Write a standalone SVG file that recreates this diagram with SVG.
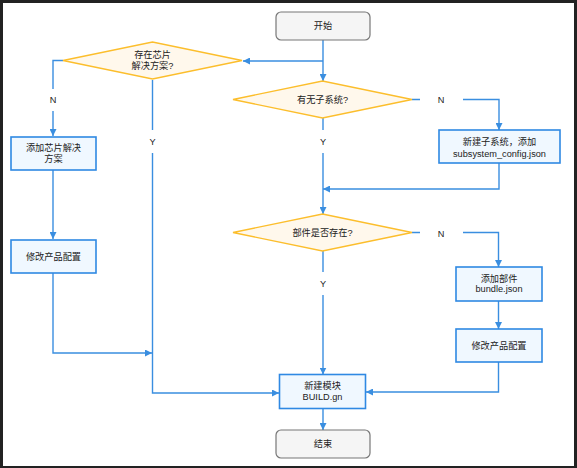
<svg xmlns="http://www.w3.org/2000/svg" width="577" height="468" viewBox="0 0 577 468">
<style>
text{font-family:"Liberation Sans","Noto Sans CJK SC",sans-serif;font-size:9.2px;fill:#222;text-anchor:middle;dominant-baseline:central}
.term{fill:#f5f5f5;stroke:#777;stroke-width:1.2}
.proc{fill:#f0f8ff;stroke:#2f89e3;stroke-width:1.6}
.dec{fill:#fff8ec;stroke:#fcbe2c;stroke-width:1.3}
.edge{fill:none;stroke:#3a8ee0;stroke-width:1.4}
.lbg{fill:#fff}
</style>
<defs>
<marker id="ah" markerUnits="userSpaceOnUse" markerWidth="8" markerHeight="7" refX="7" refY="3.5" orient="auto">
<path d="M0,0 L7,3.5 L0,7 Z" fill="#3a8ee0"/>
</marker>
</defs>
<rect x="0" y="0" width="577" height="468" fill="#222"/>
<rect x="3" y="3" width="571" height="463" fill="#fff"/>
<g id="connectors">
<path class="edge" d="M323,40 V81" marker-end="url(#ah)"/>
<path class="edge" d="M323,61 H243" marker-end="url(#ah)"/>
<path class="edge" d="M63,60.5 H53 V136" marker-end="url(#ah)"/>
<path class="edge" d="M152.5,80 V393 H279" marker-end="url(#ah)"/>
<path class="edge" d="M53,170 V239" marker-end="url(#ah)"/>
<path class="edge" d="M53,273 V353 H152" marker-end="url(#ah)"/>
<path class="edge" d="M412,99.5 H499 V130" marker-end="url(#ah)"/>
<path class="edge" d="M323,118 V214" marker-end="url(#ah)"/>
<path class="edge" d="M499,163 V189 H323" marker-end="url(#ah)"/>
<path class="edge" d="M412,232.5 H498.5 V267" marker-end="url(#ah)"/>
<path class="edge" d="M323,251 V374.5" marker-end="url(#ah)"/>
<path class="edge" d="M498.5,301 V329" marker-end="url(#ah)"/>
<path class="edge" d="M498.5,362 V392 H366" marker-end="url(#ah)"/>
<path class="edge" d="M323,409 V430" marker-end="url(#ah)"/>
<rect class="lbg" x="42" y="89" width="22" height="22"/><text x="53" y="100">N</text>
<rect class="lbg" x="142" y="130" width="22" height="23"/><text x="152.5" y="141.5">Y</text>
<rect class="lbg" x="420" y="89" width="43" height="22"/><text x="441" y="99.5">N</text>
<rect class="lbg" x="312" y="130" width="22" height="23"/><text x="323" y="141.5">Y</text>
<rect class="lbg" x="420" y="222" width="43" height="22"/><text x="441" y="234">N</text>
<rect class="lbg" x="312" y="272" width="22" height="23"/><text x="323" y="283.5">Y</text>
</g>
<g id="start"><rect class="term" x="276" y="12" width="94" height="28" rx="5"/><text x="323" y="26">开始</text></g>
<g id="d0"><polygon class="dec" points="63,60.5 152.5,42 242,60.5 152.5,79"/><text x="152.5" y="54.5">存在芯片</text><text x="152.5" y="66">解决方案?</text></g>
<g id="d1"><polygon class="dec" points="233,99.5 322.5,81 412,99.5 322.5,118"/><text x="322.5" y="99.5">有无子系统?</text></g>
<g id="addchip"><rect class="proc" x="11" y="137" width="85" height="33"/><text x="53.5" y="147.5">添加芯片解决</text><text x="53.5" y="159">方案</text></g>
<g id="modify1"><rect class="proc" x="11" y="240" width="85" height="33"/><text x="53.5" y="256.5">修改产品配置</text></g>
<g id="subsys"><rect class="proc" x="439" y="130" width="121" height="33"/><text x="499.5" y="141.5">新建子系统，添加</text><text x="499.5" y="153.5">subsystem_config.json</text></g>
<g id="d2"><polygon class="dec" points="233,232.5 322.5,214 412,232.5 322.5,251"/><text x="322.5" y="232.5">部件是否存在?</text></g>
<g id="addpart"><rect class="proc" x="456" y="267" width="86" height="34"/><text x="499" y="278.5">添加部件</text><text x="499" y="289">bundle.json</text></g>
<g id="modify2"><rect class="proc" x="456" y="329" width="86" height="33"/><text x="499" y="345.5">修改产品配置</text></g>
<g id="build"><rect class="proc" x="279.5" y="374.5" width="86" height="34"/><text x="322.5" y="385.5">新建模块</text><text x="322.5" y="397">BUILD.gn</text></g>
<g id="end"><rect class="term" x="276" y="430" width="94" height="28" rx="5"/><text x="323" y="444">结束</text></g>
</svg>
